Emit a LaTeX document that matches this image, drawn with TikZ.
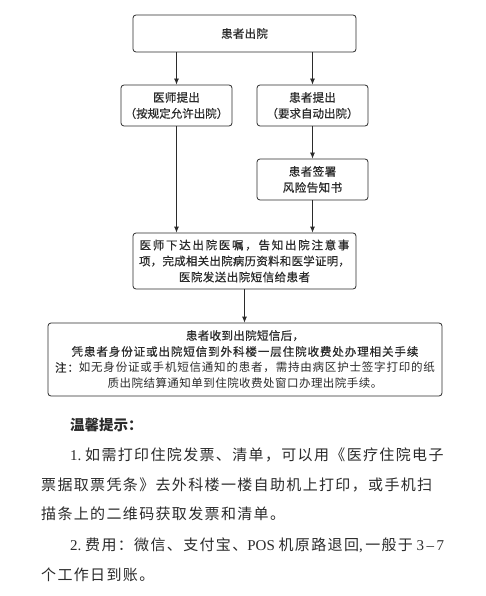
\documentclass[tikz,border=0pt]{standalone}
\usepackage{fontspec}
\setmainfont{Liberation Serif}
\newfontfamily\cjk{Noto Sans CJK SC}
\newfontfamily\cjkm{Noto Sans CJK SC}[FakeBold=0.6]
\usetikzlibrary{arrows.meta}
\definecolor{ink}{HTML}{2B2B2B}
\newcommand{\lsp}[2]{{\addfontfeature{LetterSpace=#1}#2}}
\begin{document}
\begin{tikzpicture}[x=1pt,y=-1pt,
 box/.style={draw=ink, line width=0.8pt, rounded corners=3pt, align=center, inner sep=0pt, text=ink, font=\cjkm\fontsize{11.5}{16}\selectfont},
 arr/.style={draw=ink, line width=0.8pt, -{Latex[length=6pt,width=5pt]}},
 body/.style={anchor=west, inner sep=0pt, text=ink, font=\cjk\fontsize{15}{18}\selectfont\addfontfeature{LetterSpace=9}},
 head/.style={anchor=west, inner sep=0pt, text=ink, font=\cjk\bfseries\fontsize{14.5}{18}\selectfont}
]
\fill[white] (0,0) rectangle (486,596);
\useasboundingbox (0,0) rectangle (486,596);

\node[box, minimum width=223pt, minimum height=37pt] (b1) at (244.5,33.5) {\lsp{2}{患者出院}};
\node[box, minimum width=111pt, minimum height=41pt] (b2l) at (176.5,105.5) {\lsp{2}{医师提出}\\\lsp{0}{（按规定允许出院）}};
\node[box, minimum width=111pt, minimum height=41pt] (b2r) at (312.5,105.5) {\lsp{2}{患者提出}\\\lsp{0}{（要求自动出院）}};
\node[box, minimum width=111pt, minimum height=41pt] (b3) at (312.5,179.5) {\lsp{4}{患者签署}\\\lsp{4}{风险告知书}};
\node[box, minimum width=223pt, minimum height=56pt] (b4) at (244.5,261) {\lsp{15}{医师下达出院医嘱，告知出院注意事}\\\lsp{2}{项，完成相关出院病历资料和医学证明，}\\\lsp{4}{医院发送出院短信给患者}};
\node[box, minimum width=394pt, minimum height=73pt] (b5) at (245,359.5) {\lsp{3}{患者收到出院短信后，}\\\lsp{8}{凭患者身份证或出院短信到外科楼一层住院收费处办理相关手续}\\{\cjk\fontsize{11.5}{16}\selectfont\lsp{7}{{\cjkm\fontsize{11.5}{16}\selectfont\lsp{7}{注：}}如无身份证或手机短信通知的患者，需持由病区护士签字打印的纸}}\\{\cjk\fontsize{11.5}{16}\selectfont\lsp{4}{质出院结算通知单到住院收费处窗口办理出院手续。}}};

\draw[arr] (b2l.north |- b1.south) -- (b2l.north);
\draw[arr] (b2r.north |- b1.south) -- (b2r.north);
\draw[arr] (b2r.south) -- (b3.north);
\draw[arr] (b2l.south) -- (b2l.south |- b4.north);
\draw[arr] (b3.south) -- (b3.south |- b4.north);
\draw[arr] (b4.south) -- (b4.south |- b5.north);

\node[head] (h) at (70,425) {温馨提示：};
\node[body] (l1) at (70,455) {{\rmfamily 1.~}如需打印住院发票、清单，可以用《医疗住院电子};
\node[body] (l2) at (41,485) {票据取票凭条》去外科楼一楼自助机上打印，或手机扫};
\node[body] (l3) at (41,514) {描条上的二维码获取发票和清单。};
\node[body] (l4) at (70,545) {{\rmfamily 2.~}费用：微信、支付宝、{\rmfamily POS~}机原路退回{\rmfamily ,\,}一般于{\rmfamily ~3\,–\,7}};
\node[body] (l5) at (41,575) {个工作日到账。};
\end{tikzpicture}
\end{document}
